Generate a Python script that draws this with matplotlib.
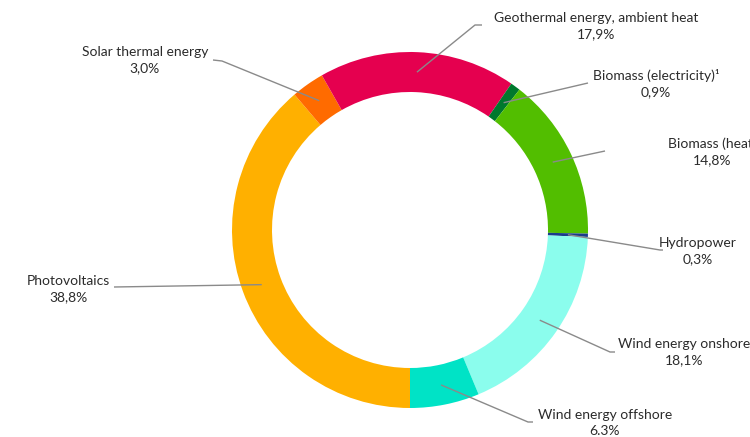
import numpy as np
import matplotlib
matplotlib.use('Agg')
import matplotlib.pyplot as plt

W, H = 750, 437

labels = ['Photovoltaics', 'Solar thermal energy', 'Geothermal energy, ambient heat',
          'Biomass (electricity)¹', 'Biomass (heat)', 'Hydropower',
          'Wind energy onshore', 'Wind energy offshore']
pct_text = ['38,8%', '3,0%', '17,9%', '0,9%', '14,8%', '0,3%', '18,1%', '6.3%']
shares = [38.8, 3.0, 17.9, 0.9, 14.8, 0.3, 18.1, 6.3]
colors = ['#FFB000', '#FF6B00', '#E5004F', '#00782D', '#52BE00', '#1B3C8C',
          '#8BFDED', '#00E3C6']

# label centres and leader-line ends, in pixels (y from top)
text_pos = [(68, 289), (145, 60), (596, 26), (656, 84), (712, 152), (698, 251),
            (684, 352), (605, 423)]
line_end = [[(114, 287)], [(222, 61), (213, 60)], [(475, 25), (482, 25)],
            [(588, 83)], [(605, 151)], [(660, 250), (663, 250)],
            [(610, 352), (615, 352)], [(528, 422), (533, 422)]]

cx, cy, R, ring = 410, 230, 178, 40

fig = plt.figure(figsize=(7.5, 4.37), dpi=100)
ax = fig.add_axes([0, 0, 1, 1])

wedges, _ = ax.pie(shares, colors=colors, startangle=-90, counterclock=False,
                   radius=R, center=(cx, H - cy),
                   wedgeprops=dict(width=ring, edgecolor='none', linewidth=0))

rm = R - ring / 2
for w, lab, pct, tp, ends in zip(wedges, labels, pct_text, text_pos, line_end):
    a = np.deg2rad((w.theta1 + w.theta2) / 2)
    xs = [cx + rm * np.cos(a)] + [p[0] for p in ends]
    ys = [H - cy + rm * np.sin(a)] + [H - p[1] for p in ends]
    ax.plot(xs, ys, color='#8a8a8a', lw=1.0, solid_capstyle='butt', zorder=3)
    ax.text(tp[0], H - tp[1], lab + '\n' + pct, ha='center', va='center',
            fontsize=10, family='Lato', color='#2b2b2b', linespacing=1.4)

ax.set_xlim(0, W)
ax.set_ylim(0, H)
ax.set_aspect('equal')
ax.axis('off')

fig.savefig('out.png', dpi=100)
